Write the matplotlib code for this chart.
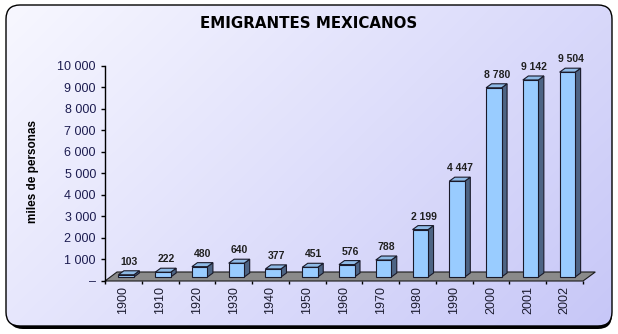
import numpy as np
import matplotlib
matplotlib.use("Agg")
import matplotlib.pyplot as plt
from matplotlib.patches import FancyBboxPatch, Polygon

# Data: Mexican emigrants (thousands of people)
years = ["1900", "1910", "1920", "1930", "1940", "1950", "1960",
         "1970", "1980", "1990", "2000", "2001", "2002"]
emigrants = [103, 222, 480, 640, 377, 451, 576, 788, 2199, 4447, 8780, 9142, 9504]
yticks = list(range(0, 10001, 1000))

title = "EMIGRANTES MEXICANOS"
ylabel = "miles de personas"


def fmt_thousands(v):
    return "–" if v == 0 else f"{v:,}".replace(",", " ")


W, H = 618, 334
fig = plt.figure(figsize=(W / 100, H / 100), dpi=100)

# ---- chart area background: rounded frame with shadow and gradient fill
bg = fig.add_axes([0, 0, 1, 1])
bg.axis("off")
shadow = FancyBboxPatch((9, 8), 603, 321,
                        boxstyle="round,pad=0,rounding_size=14",
                        fc="black", ec="none", zorder=0)
bg.add_patch(shadow)
gx = np.linspace(0, 1, 400)
gy = np.linspace(0, 1, 220)
GX, GY = np.meshgrid(gx, gy)
t = np.clip(0.65 * GX + 0.35 * GY, 0, 1)[..., None]
c0 = np.array([0.97, 0.97, 1.0])
c1 = np.array([0.78, 0.78, 0.97])
im = bg.imshow(c0 + (c1 - c0) * t, extent=(6, 612, 326, 5),
               aspect="auto", interpolation="bilinear", zorder=1)
frame = FancyBboxPatch((6, 5), 606, 321,
                       boxstyle="round,pad=0,rounding_size=14",
                       fc="none", ec="black", lw=1.0, zorder=2)
bg.add_patch(frame)
im.set_clip_path(frame)
bg.set_xlim(0, W)
bg.set_ylim(H, 0)

# ---- plot area (front plane)
L, R, B, T = 105, 583, 281, 65.5
ax = fig.add_axes([L / W, 1 - B / H, (R - L) / W, (B - T) / H])
ax.patch.set_visible(False)
n = len(years)
ax.set_xlim(0, n)
ax.set_ylim(0, 10000)
pxx = n / (R - L)          # data units per pixel, x
pxy = 10000 / (B - T)      # data units per pixel, y

# floor
floor = Polygon([(0, 0), (n, 0), (n + 12.3 * pxx, 9 * pxy), (12 * pxx, 9 * pxy)],
                closed=True, fc="#8a8a8a", ec="#1a1a1a", lw=0.8,
                clip_on=False, zorder=1)
ax.add_patch(floor)

# 3D-looking columns
centers = np.arange(n) + 0.5
fw = 15.5 * pxx
x0 = centers - 5 * pxx
base = 4 * pxy
dx, dy = 5.5 * pxx, 4 * pxy
edge = "#1a1a2a"
for xl, v in zip(x0, emigrants):
    xr = xl + fw
    top = base + v
    ax.add_patch(Polygon([(xr, base), (xr + dx, base + dy), (xr + dx, top + dy), (xr, top)],
                         closed=True, fc="#4d6484", ec=edge, lw=0.8,
                         clip_on=False, zorder=2))
    ax.add_patch(Polygon([(xl, top), (xr, top), (xr + dx, top + dy), (xl + dx, top + dy)],
                         closed=True, fc="#8fbbe6", ec=edge, lw=0.8,
                         clip_on=False, zorder=2))
ax.bar(x0, emigrants, width=fw, bottom=base, align="edge",
       color="#99ccff", edgecolor=edge, linewidth=0.8, zorder=3, clip_on=False)

for c, v in zip(centers, emigrants):
    ax.annotate(fmt_thousands(v), xy=(c, base + v), xytext=(6, 13),
                textcoords="offset pixels", ha="center", va="center",
                fontsize=7.5, fontweight="bold", color="#202020",
                family="Liberation Sans", zorder=5)

# axes styling
for s in ("top", "right", "bottom"):
    ax.spines[s].set_visible(False)
ax.spines["left"].set_color("black")
ax.spines["left"].set_linewidth(1.0)

ax.set_yticks(yticks)
ax.set_yticklabels([fmt_thousands(v) for v in yticks],
                   family="Liberation Sans", fontsize=9, color="#1c1c50")
ax.tick_params(axis="y", length=3, width=1, pad=3.5, color="black")

ax.set_xticks(np.arange(n + 1))
ax.set_xticklabels([])
ax.set_xticks(centers, minor=True)
ax.set_xticklabels(years, minor=True, rotation=90,
                   family="Liberation Sans", fontsize=9, color="#1c1c30")
ax.tick_params(axis="x", which="major", length=2.5, width=1, color="black")
ax.tick_params(axis="x", which="minor", length=0, pad=3.5)

fig.text(309 / W, 1 - 24 / H, title, ha="center", va="center",
         fontsize=10.8, fontweight="bold", family="DejaVu Sans", color="black")
fig.text(33 / W, 1 - 172 / H, ylabel, rotation=90, ha="center", va="center",
         fontsize=8.5, fontweight="bold", family="Liberation Sans", color="black")

fig.savefig("out.png", dpi=100)
